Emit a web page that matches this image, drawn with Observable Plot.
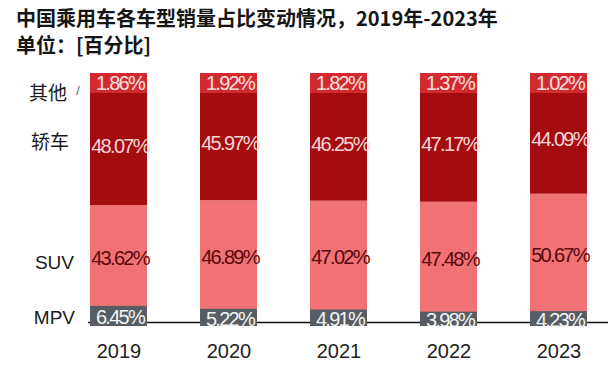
<!DOCTYPE html>
<html><head><meta charset="utf-8">
<script src="https://cdn.jsdelivr.net/npm/d3@7"></script>
<script src="https://cdn.jsdelivr.net/npm/@observablehq/plot@0.6"></script>
<style>
body{margin:0;background:#fff;width:608px;height:375px;overflow:hidden}
#title{padding:4px 0 0 16px;font-family:"Noto Sans CJK SC",sans-serif;font-weight:bold;font-size:20px;line-height:27px;color:#151515;height:56px}
</style></head><body>
<div id="title"><div>中国乘用车各车型销量占比变动情况，2019年-2023年</div><div>单位：[百分比]</div></div>
<div id="chart"></div>
<script>
const years = ["2019","2020","2021","2022","2023"];
const types = ["MPV","SUV","轿车","其他"];
const mpv   = [6.45, 5.22, 4.91, 3.98, 4.23];
const suv   = [43.62, 46.89, 47.02, 47.48, 50.67];
const sedan = [48.07, 45.97, 46.25, 47.17, 44.09];
const other = [1.86, 1.92, 1.82, 1.37, 1.02];
const colors = ["#5a6066", "#f07274", "#a50c10", "#d12b30"];

const rows = years.flatMap((yr, i) => [
  {year: yr, type: "MPV", value: mpv[i]},
  {year: yr, type: "SUV", value: suv[i]},
  {year: yr, type: "轿车", value: sedan[i]},
  {year: yr, type: "其他", value: other[i]}
]);
const fmt = v => v.toFixed(2) + "%";
// per-year positions derived from the stacked values
const pos = years.map((yr, i) => ({
  year: yr,
  mpv: mpv[i], suv: suv[i], sedan: sedan[i], other: other[i],
  mpvMid: mpv[i] / 2,
  suvMid: mpv[i] + suv[i] / 2,
  sedanMid: mpv[i] + suv[i] + sedan[i] / 2,
  total: mpv[i] + suv[i] + sedan[i] + other[i]
}));
const p0 = [pos[0]];
const FF = "Liberation Sans, Arial, sans-serif";
// broken scale: the small top share (above 98%) is stretched, as in the original
const brk = 98, lowSpan = 229, topSpan = 20;
const yT = v => v <= brk ? v / brk * lowSpan : lowSpan + Math.min(v - brk, 2) / 2 * topSpan;

const chart = Plot.plot({
  width: 608,
  height: 315,
  marginLeft: 88,
  marginRight: 0,
  marginTop: 13,
  marginBottom: 53,
  style: {fontFamily: FF, fontSize: "20px", color: "#222", background: "#fff"},
  x: {domain: years, range: [88.5, 588], padding: 0.485, paddingOuter: 0, tickSize: 0, tickPadding: 21, label: null},
  y: {domain: [0, lowSpan + topSpan], transform: yT, axis: null},
  color: {domain: types, range: colors},
  marks: [
    Plot.barY(rows, Plot.stackY({x: "year", y: "value", z: "type", fill: "type", order: types})),
    Plot.ruleY([0], {stroke: "#111", strokeWidth: 1.5}),
    Plot.barY(pos, {x: "year", y1: 0, y2: "mpv", fill: "#575d62", insetBottom: -4, insetTop: -1}),
    Plot.barY(pos, {x: "year", y1: "total", y2: "total", fill: "#d12b30", insetBottom: -20}),
    Plot.text(pos, {x: "year", y: "total", dy: 10, dx: 1, text: d => fmt(d.other), fill: "#fbe0e0", fontSize: 20}),
    Plot.text(pos, {x: "year", y: "sedanMid", dx: 1, text: d => fmt(d.sedan), fill: "#f6d6d6", fontSize: 20, dy: -3}),
    Plot.text(pos, {x: "year", y: "suvMid", dx: 1, text: d => fmt(d.suv), fill: "#5a080c", fontSize: 20, dy: 2}),
    Plot.text(pos, {x: "year", y: "mpvMid", dx: 1, text: d => fmt(d.mpv), fill: "#f2f4f6", fontSize: 20, dy: 3}),
    // left series labels
    Plot.text(p0, {x: "year", y: "total", text: () => "其他", dx: -52, dy: 20, textAnchor: "end", fontFamily: "Noto Sans CJK SC", fontSize: 19, fill: "#1a1a1a"}),
    Plot.text(p0, {x: "year", y: "total", text: () => "/", dx: -41, dy: 18, fontSize: 12, fill: "#555"}),
    Plot.text(p0, {x: "year", y: "sedanMid", text: () => "轿车", dx: -50, dy: -6, textAnchor: "end", fontFamily: "Noto Sans CJK SC", fontSize: 19, fill: "#1a1a1a"}),
    Plot.text(p0, {x: "year", y: "suvMid", text: () => "SUV", dx: -45, dy: 6, textAnchor: "end", fontSize: 19, fill: "#1a1a1a"}),
    Plot.text(p0, {x: "year", y: "mpvMid", text: () => "MPV", dx: -44, dy: 3, textAnchor: "end", fontSize: 19, fill: "#1a1a1a"})
  ]
});
d3.select(chart).selectAll("text")
  .filter(function() { return this.textContent.trim().endsWith("%"); })
  .attr("letter-spacing", "-1.7")
  .style("letter-spacing", "-1.7px");
document.getElementById("chart").appendChild(chart);
</script>
</body></html>
